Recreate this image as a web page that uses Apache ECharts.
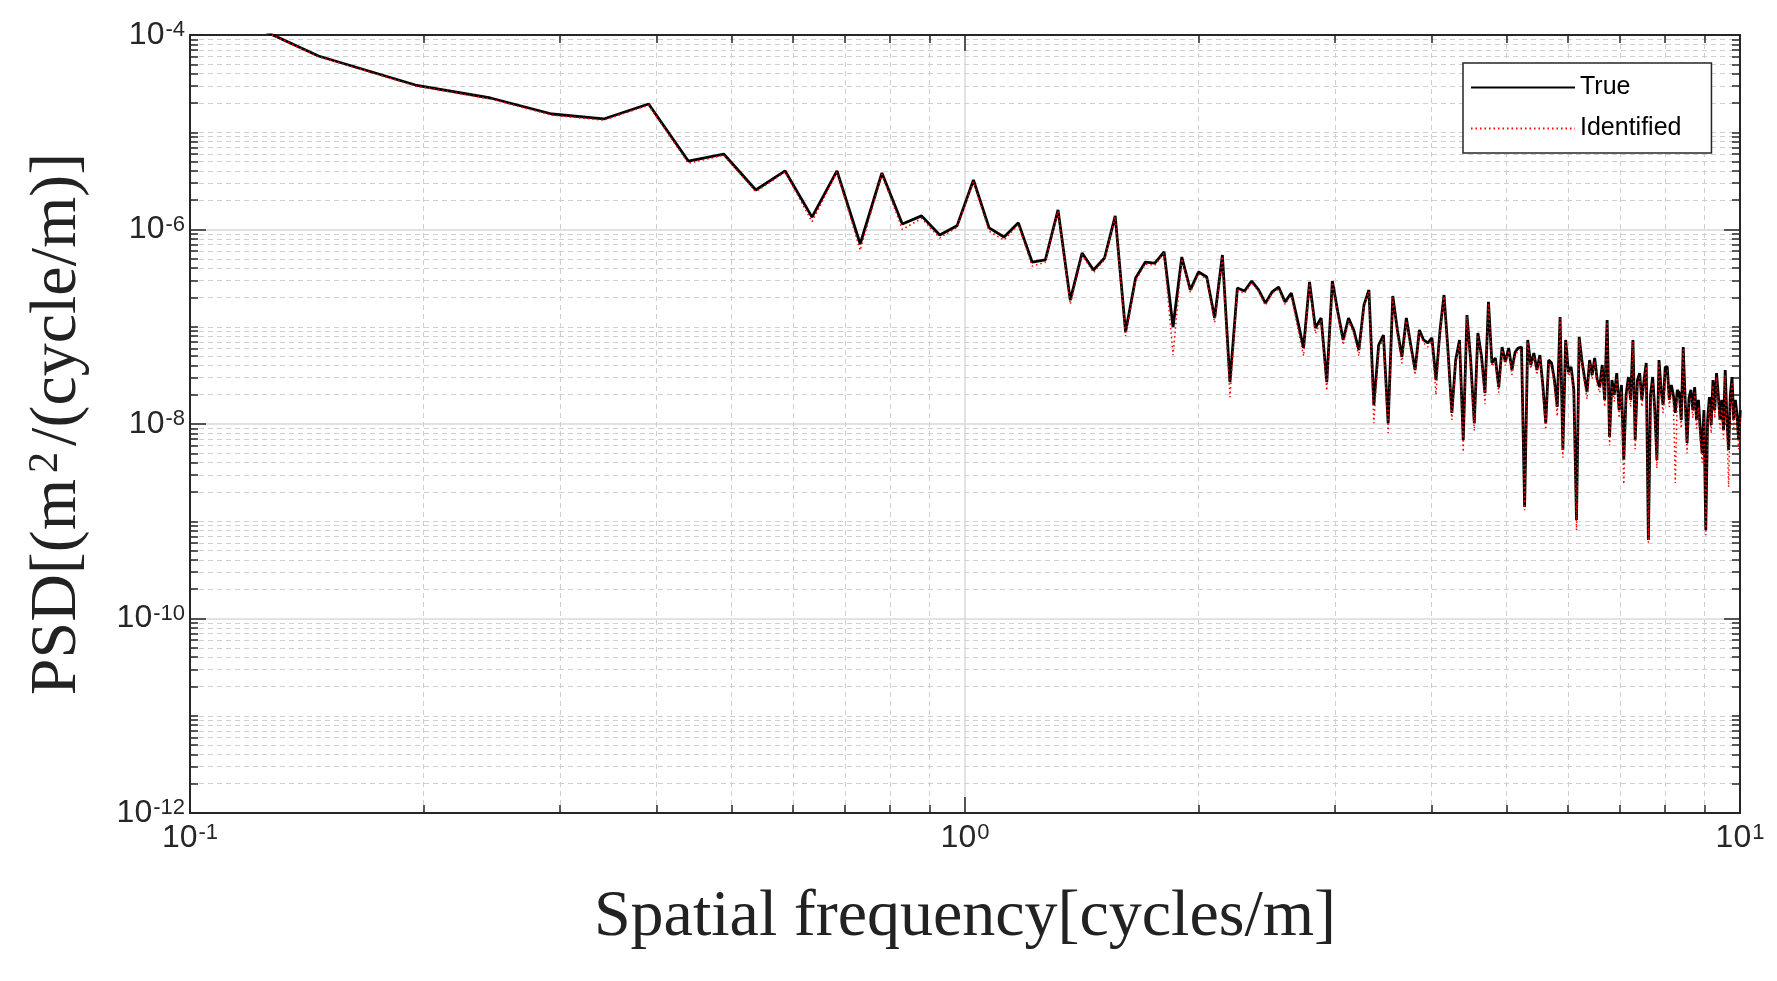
<!DOCTYPE html>
<html>
<head>
<meta charset="utf-8">
<script src="https://cdn.jsdelivr.net/npm/echarts@6/dist/echarts.min.js"></script>
<style>html,body{margin:0;padding:0;background:#fff}#chart{width:1777px;height:981px}</style>
</head>
<body>
<div id="chart"></div>
<script>
// Frequency grid: sample k * df, starting at k = kStart
const kStart = 2;
const df = 0.048828125; // cycles/m (1/20.48)

// PSD values (m^2/(cycle/m)), k = 2 .. 205
const trueVals = [
  2.70e-4, 6.08e-5, 3.06e-5, 2.25e-5, 1.54e-5, 1.37e-5, 1.95e-5, 5.06e-6, 5.97e-6, 2.55e-6,
  4.0e-6, 1.34e-6, 4.0e-6, 7.09e-7, 3.81e-6, 1.14e-6, 1.38e-6, 8.78e-7, 1.09e-6, 3.23e-6,
  1.04e-6, 8.37e-7, 1.17e-6, 4.63e-7, 4.86e-7, 1.59e-6, 1.88e-7, 5.73e-7, 3.83e-7, 5.09e-7,
  1.38e-6, 8.83e-8, 3.17e-7, 4.63e-7, 4.52e-7, 5.87e-7, 9.94e-8, 5.21e-7, 2.39e-7, 3.66e-7,
  3.25e-7, 1.23e-7, 5.47e-7, 2.70e-8, 2.50e-7, 2.33e-7, 2.95e-7, 2.39e-7, 1.75e-7, 2.28e-7,
  2.56e-7, 1.80e-7, 2.22e-7, 1.17e-7, 6.05e-8, 2.89e-7, 9.71e-8, 1.23e-7, 2.70e-8, 2.95e-7,
  1.42e-7, 7.31e-8, 1.23e-7, 9.26e-8, 5.77e-8, 1.67e-7, 2.39e-7, 1.57e-8, 6.49e-8, 8.23e-8,
  1.02e-8, 2.07e-7, 9.26e-8, 4.89e-8, 1.23e-7, 6.49e-8, 3.59e-8, 9.26e-8, 7.31e-8, 6.81e-8,
  7.66e-8, 2.83e-8, 9.26e-8, 2.12e-7, 5.77e-8, 1.30e-8, 4.55e-8, 7.31e-8, 6.85e-9, 1.32e-7,
  4.55e-8, 1.02e-8, 8.63e-8, 5.00e-8, 2.08e-8, 1.80e-7, 4.24e-8, 4.77e-8, 2.40e-8, 6.19e-8,
  4.34e-8, 6.05e-8, 3.59e-8, 5.50e-8, 6.05e-8, 6.19e-8, 1.40e-9, 7.31e-8, 4.04e-8, 5.37e-8,
  3.59e-8, 5.12e-8, 2.52e-8, 1.02e-8, 4.55e-8, 4.24e-8, 2.83e-8, 1.50e-8, 1.26e-7, 5.40e-9,
  7.31e-8, 3.42e-8, 3.86e-8, 2.24e-8, 1.03e-9, 7.85e-8, 4.55e-8, 3.04e-8, 2.13e-8, 4.55e-8,
  3.19e-8, 4.77e-8, 2.83e-8, 2.40e-8, 4.04e-8, 1.77e-8, 1.17e-7, 7.35e-9, 2.83e-8, 1.99e-8,
  3.34e-8, 1.39e-8, 2.52e-8, 4.26e-9, 1.99e-8, 3.04e-8, 1.77e-8, 7.31e-8, 6.85e-9, 2.83e-8,
  3.34e-8, 1.77e-8, 2.83e-8, 4.24e-8, 6.41e-10, 1.99e-8, 3.04e-8, 1.39e-8, 4.26e-9, 4.55e-8,
  2.24e-8, 1.57e-8, 3.86e-8, 3.86e-8, 1.77e-8, 2.52e-8, 1.99e-8, 1.30e-8, 2.24e-8, 2.08e-8,
  1.10e-8, 6.19e-8, 1.77e-8, 6.38e-9, 1.85e-8, 2.24e-8, 1.39e-8, 2.40e-8, 1.10e-8, 1.77e-8,
  8.68e-9, 5.03e-9, 1.39e-8, 8.13e-10, 1.10e-8, 1.89e-8, 9.77e-9, 2.83e-8, 1.39e-8, 3.34e-8,
  1.99e-8, 1.10e-8, 1.77e-8, 8.68e-9, 3.59e-8, 1.10e-8, 5.40e-9, 1.99e-8, 3.04e-8, 1.10e-8,
  1.77e-8, 1.24e-8, 6.85e-9, 1.39e-8
];

const identifiedVals = [
  2.70e-4, 6.0e-5, 3.0e-5, 2.2e-5, 1.5e-5, 1.33e-5, 1.9e-5, 4.8e-6, 5.8e-6, 2.45e-6,
  3.9e-6, 1.2e-6, 3.9e-6, 6.1e-7, 3.7e-6, 1.0e-6, 1.3e-6, 8.2e-7, 1.05e-6, 3.1e-6,
  9.6e-7, 7.8e-7, 1.12e-6, 4.2e-7, 4.6e-7, 1.55e-6, 1.7e-7, 5.5e-7, 3.6e-7, 4.9e-7,
  1.35e-6, 8.0e-8, 3.0e-7, 4.4e-7, 4.3e-7, 5.7e-7, 5.1e-8, 5.0e-7, 2.25e-7, 3.5e-7,
  3.1e-7, 1.1e-7, 5.3e-7, 1.89e-8, 2.4e-7, 2.2e-7, 2.85e-7, 2.3e-7, 1.65e-7, 2.2e-7,
  2.45e-7, 1.7e-7, 2.1e-7, 1.0e-7, 5.0e-8, 2.8e-7, 8.5e-8, 1.15e-7, 2.2e-8, 2.85e-7,
  1.35e-7, 6.5e-8, 1.15e-7, 8.5e-8, 5.0e-8, 1.6e-7, 2.3e-7, 1.02e-8, 6.0e-8, 7.5e-8,
  8.1e-9, 2.0e-7, 8.5e-8, 4.2e-8, 1.15e-7, 6.0e-8, 3.2e-8, 8.8e-8, 6.8e-8, 6.2e-8,
  7.2e-8, 2.0e-8, 8.8e-8, 2.05e-7, 5.2e-8, 1.1e-8, 4.2e-8, 6.8e-8, 5.15e-9, 1.28e-7,
  4.2e-8, 8.5e-9, 8.2e-8, 4.6e-8, 1.6e-8, 1.75e-7, 3.9e-8, 4.4e-8, 2.1e-8, 5.8e-8,
  4.0e-8, 5.7e-8, 3.2e-8, 5.1e-8, 5.7e-8, 5.8e-8, 1.3e-9, 7.0e-8, 3.7e-8, 5.0e-8,
  3.2e-8, 4.8e-8, 2.2e-8, 8.7e-9, 4.2e-8, 3.9e-8, 2.5e-8, 1.2e-8, 1.22e-7, 4.5e-9,
  7.0e-8, 3.1e-8, 3.5e-8, 1.9e-8, 8.1e-10, 7.5e-8, 4.2e-8, 2.7e-8, 1.8e-8, 4.2e-8,
  2.9e-8, 4.4e-8, 2.5e-8, 2.1e-8, 3.7e-8, 1.5e-8, 1.13e-7, 6.0e-9, 2.5e-8, 1.7e-8,
  3.0e-8, 1.15e-8, 2.2e-8, 2.4e-9, 1.7e-8, 2.7e-8, 1.5e-8, 7.0e-8, 5.5e-9, 2.5e-8,
  3.0e-8, 1.5e-8, 2.5e-8, 3.9e-8, 6.0e-10, 1.7e-8, 2.7e-8, 1.15e-8, 3.5e-9, 4.2e-8,
  1.9e-8, 1.3e-8, 3.5e-8, 3.5e-8, 1.5e-8, 2.2e-8, 1.7e-8, 2.47e-9, 1.9e-8, 1.8e-8,
  9.0e-9, 5.8e-8, 1.5e-8, 5.0e-9, 1.6e-8, 1.9e-8, 1.15e-8, 2.1e-8, 9.0e-9, 1.5e-8,
  7.0e-9, 4.0e-9, 1.15e-8, 7.2e-10, 9.0e-9, 1.6e-8, 8.0e-9, 2.5e-8, 1.15e-8, 3.0e-8,
  1.7e-8, 9.0e-9, 1.5e-8, 7.0e-9, 3.2e-8, 9.0e-9, 2.25e-9, 1.7e-8, 2.7e-8, 9.0e-9,
  1.5e-8, 1.0e-8, 5.5e-9, 1.15e-8
];

// Tick label exponents (labels read "10^e")
const xLabelExps = [-1, 0, 1];
const yLabelExps = [-12, -10, -8, -6, -4];
const minorMantissas = [2, 3, 4, 5, 6, 7, 8, 9];

const seriesNames = ['True', 'Identified'];
const xTitle = 'Spatial frequency[cycles/m]';

function toPairs(vals) { return vals.map((v, i) => [(kStart + i) * df, v]); }
function p10(e) { return parseFloat(Math.pow(10, e).toPrecision(6)); }

const xMajor = xLabelExps.map(p10);
const yMajor = yLabelExps.map(p10);
const xMinor = [];
for (let e = -1; e <= 0; e++) minorMantissas.forEach(m => xMinor.push(parseFloat((m * Math.pow(10, e)).toPrecision(6))));
const yMinor = [];
for (let e = -12; e <= -5; e++) {
  if (yLabelExps.indexOf(e) < 0) yMinor.push(p10(e));
  minorMantissas.forEach(m => yMinor.push(parseFloat((m * Math.pow(10, e)).toPrecision(6))));
}

const INK = '#262626';
const labelRich = {
  b: { fontSize: 32, lineHeight: 32, fontFamily: 'Liberation Sans', color: INK, verticalAlign: 'bottom' },
  s: { fontSize: 22, lineHeight: 22, fontFamily: 'Liberation Sans', color: INK, verticalAlign: 'top', padding: [0, 0, 17, 1] }
};
function powLabel(v) {
  const e = Math.round(Math.log10(v));
  return '{b|10}{s|' + e + '}';
}

const box = { left: 190, right: 37, top: 35, bottom: 168 };

function xAx(grid, pos, ticks, len, opts) {
  return Object.assign({
    gridIndex: grid, type: 'log', logBase: 10, min: 0.1, max: 10, position: pos,
    axisLine: { show: true, lineStyle: { color: INK, width: 2 } },
    axisTick: { show: true, inside: true, length: len, customValues: ticks, lineStyle: { color: INK, width: 1.5 } },
    axisLabel: { show: false },
    splitLine: { show: false },
    minorTick: { show: false }, minorSplitLine: { show: false }
  }, opts || {});
}
function yAx(grid, pos, ticks, len, opts) {
  return Object.assign({
    gridIndex: grid, type: 'log', logBase: 10, min: 1e-12, max: 1e-4, position: pos,
    axisLine: { show: true, lineStyle: { color: INK, width: 2 } },
    axisTick: { show: true, inside: true, length: len, customValues: ticks, lineStyle: { color: INK, width: 1.5 } },
    axisLabel: { show: false },
    splitLine: { show: false },
    minorTick: { show: false }, minorSplitLine: { show: false }
  }, opts || {});
}

const option = {
  animation: false,
  backgroundColor: '#ffffff',
  grid: [Object.assign({}, box), Object.assign({}, box)],
  legend: {
    data: seriesNames,
    left: 1463, top: 63, orient: 'vertical',
    itemWidth: 104, itemHeight: 20, itemGap: 16,
    padding: [12, 30, 12, 7],
    backgroundColor: '#ffffff', borderColor: INK, borderWidth: 1.5, borderRadius: 0,
    itemStyle: { opacity: 0 },
    textStyle: { fontSize: 25, fontFamily: 'Liberation Sans', color: '#000' },
    z: 10
  },
  xAxis: [
    xAx(0, 'bottom', xMajor, 16, {
      name: xTitle, nameLocation: 'middle', nameGap: 72,
      nameTextStyle: { fontFamily: 'Liberation Serif', fontSize: 66, color: '#222' },
      axisLabel: { show: true, customValues: xMajor, formatter: powLabel, rich: labelRich, margin: 9 },
      splitLine: { show: true, lineStyle: { color: '#d9d9d9', width: 1.5 } }
    }),
    xAx(0, 'top', xMajor, 16),
    xAx(1, 'bottom', xMinor, 8, {
      axisLine: { show: false },
      splitLine: { show: true, lineStyle: { color: '#cfcfcf', width: 1, type: [5, 4] } }
    }),
    xAx(1, 'top', xMinor, 8, { axisLine: { show: false } })
  ],
  yAxis: [
    yAx(0, 'left', yMajor, 16, {
      name: '{a|PSD[(m}{p|2}{a|/(cycle/m)]}', nameLocation: 'middle', nameGap: 99,
      nameTextStyle: {
        rich: {
          a: { fontFamily: 'Liberation Serif', fontSize: 66, lineHeight: 66, color: '#222', verticalAlign: 'bottom' },
          p: { fontFamily: 'Liberation Serif', fontSize: 42, lineHeight: 42, color: '#222', verticalAlign: 'top', padding: [0, 6, 24, 6] }
        }
      },
      axisLabel: { show: true, customValues: yMajor, formatter: powLabel, rich: labelRich, margin: 5 },
      splitLine: { show: true, lineStyle: { color: '#d9d9d9', width: 1.5 } }
    }),
    yAx(0, 'right', yMajor, 16),
    yAx(1, 'left', yMinor, 8, {
      axisLine: { show: false },
      splitLine: { show: true, lineStyle: { color: '#cfcfcf', width: 1, type: [5, 4] } }
    }),
    yAx(1, 'right', yMinor, 8, { axisLine: { show: false } })
  ],
  series: [
    {
      name: seriesNames[0], type: 'line', xAxisIndex: 0, yAxisIndex: 0,
      data: toPairs(trueVals), symbol: 'none', showSymbol: false, clip: true,
      lineStyle: { color: '#000000', width: 2.8 }, itemStyle: { color: '#000000' }, z: 3
    },
    {
      name: seriesNames[1], type: 'line', xAxisIndex: 0, yAxisIndex: 0,
      data: toPairs(identifiedVals), symbol: 'none', showSymbol: false, clip: true,
      lineStyle: { color: '#ff0000', width: 1.5, type: [1.5, 3] }, itemStyle: { color: '#ff0000' }, z: 4
    }
  ]
};

const chart = echarts.init(document.getElementById('chart'), null, { renderer: 'canvas' });
chart.setOption(option);
</script>
</body>
</html>
